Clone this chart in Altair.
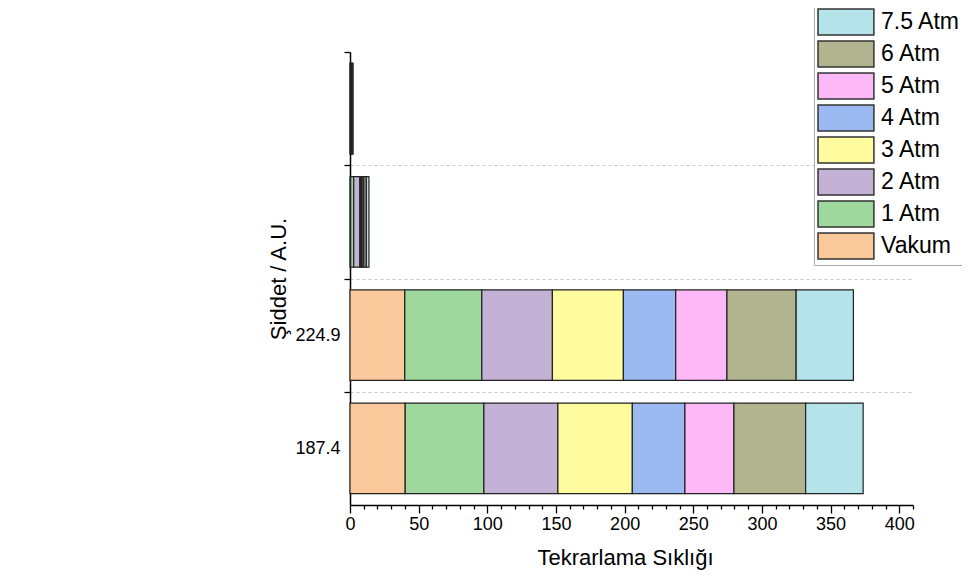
import altair as alt
import pandas as pd

# Categories (top to bottom); the two upper ones carry no visible tick label
categories = ["299.9", "262.4", "224.9", "187.4"]
shown_labels = ["224.9", "187.4"]

# Series in stacking order (left to right)
series = ["Vakum", "1 Atm", "2 Atm", "3 Atm", "4 Atm", "5 Atm", "6 Atm", "7.5 Atm"]
colors = ["#F9C89B", "#9ED89C", "#C3B1D6", "#FFFB9F", "#9BBAF2", "#FDB8F8", "#B2B48F", "#B5E3EA"]

vals_299 = [0.2, 0.3, 0.3, 0.3, 0.3, 0.3, 0.3, 0.2]
vals_262 = [0.5, 2.2, 4.4, 0.9, 0.9, 1.2, 1.8, 1.9]
vals_224 = [39.9, 56.1, 51.4, 51.7, 38.1, 37.3, 50.4, 41.7]
vals_187 = [40.2, 57.3, 53.9, 54.2, 38.3, 35.7, 52.2, 41.9]

x_ticks = list(range(0, 411, 10))

values = {"299.9": vals_299, "262.4": vals_262, "224.9": vals_224, "187.4": vals_187}
rows = []
for c in categories:
    for i, s in enumerate(series):
        rows.append({"cat": c, "seri": s, "sira": i, "deger": values[c][i]})
df = pd.DataFrame(rows)

legend_order = series[::-1]
legend_colors = colors[::-1]

W, H = 563, 453
step = H / (len(categories) - 0.2 + 2 * 0.1)
FONT = "Liberation Sans"

label_test = " || ".join(f"datum.value === '{v}'" for v in shown_labels)

chart = alt.Chart(df).mark_bar(stroke="#222222", strokeWidth=1.2, opacity=1).encode(
    x=alt.X(
        "deger:Q",
        stack="zero",
        scale=alt.Scale(domain=[0, 410], nice=False, zero=True),
        axis=alt.Axis(
            title="Tekrarlama Sıklığı",
            values=x_ticks,
            labelExpr="datum.value % 50 === 0 ? datum.label : ''",
            labelOverlap=False,
            labelFlush=False,
            tickSize=alt.condition("datum.value % 50 === 0", alt.value(8), alt.value(4)),
            tickColor="black",
            tickWidth=1.3,
            domainColor="black",
            domainWidth=1.5,
            labelFont=FONT,
            labelFontSize=18,
            labelColor="black",
            labelPadding=2,
            titleFont=FONT,
            titleFontSize=22,
            titleFontWeight="normal",
            titleColor="black",
            titleX=275,
            titleY=59,
            titleBaseline="alphabetic",
            grid=False,
        ),
    ),
    y=alt.Y(
        "cat:N",
        sort=categories,
        scale=alt.Scale(paddingInner=0.2, paddingOuter=0.1),
        axis=alt.Axis(
            title="Şiddet / A.U.",
            labelExpr=f"({label_test}) ? datum.label : ''",
            tickOffset=-step / 2,
            labelOffset=step / 2,
            tickSize=6,
            tickColor="black",
            tickWidth=1.3,
            domainColor="black",
            domainWidth=1.5,
            labelFont=FONT,
            labelFontSize=18,
            labelColor="black",
            labelPadding=4,
            grid=True,
            gridColor="#c8c8c8",
            gridDash=[3, 3],
            gridWidth=1,
            gridOpacity=alt.condition("datum.value === '299.9'", alt.value(0), alt.value(1)),
            titleFont=FONT,
            titleFontSize=22,
            titleFontWeight="normal",
            titleColor="black",
            titleX=-72,
            titleY=H / 2,
            titleBaseline="middle",
        ),
    ),
    color=alt.Color(
        "seri:N",
        scale=alt.Scale(domain=legend_order, range=legend_colors),
        legend=alt.Legend(
            title=None,
            orient="none",
            legendX=464,
            legendY=-47,
            symbolType="M-1,-1H3.3V1H-1Z",
            symbolSize=676,
            symbolStrokeColor="#333333",
            symbolStrokeWidth=1.5,
            symbolOpacity=1,
            labelFont=FONT,
            labelFontSize=23,
            labelColor="black",
            labelOffset=36,
            rowPadding=0,
            padding=3,
            strokeColor="#aaaaaa",
            fillColor="white",
        ),
    ),
    order=alt.Order("sira:Q"),
).properties(
    width=W,
    height=H,
    padding={"left": 342, "top": 44, "right": 49, "bottom": 66},
    autosize=alt.AutoSizeParams(type="none"),
).configure_view(stroke=None)

chart.save("out.html", embed_options={"renderer": "svg", "actions": False})
